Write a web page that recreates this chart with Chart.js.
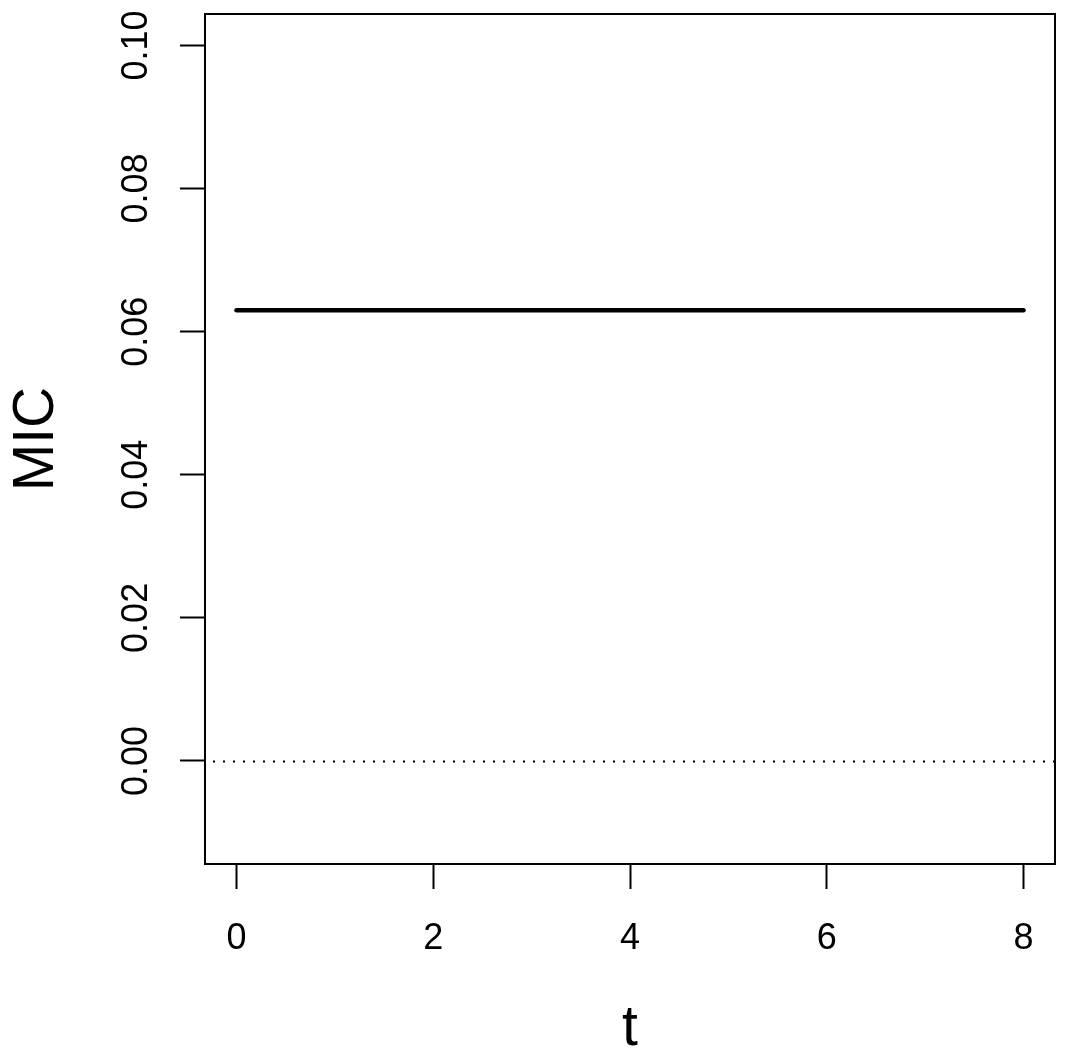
<!DOCTYPE html>
<html>
<head>
<meta charset="utf-8">
<script src="https://cdn.jsdelivr.net/npm/chart.js@4/dist/chart.umd.min.js"></script>
<style>
  html, body { margin: 0; padding: 0; background: #fff; }
  #wrap { width: 1066px; height: 1058px; }
</style>
</head>
<body>
<div id="wrap"><canvas id="chart" width="1066" height="1058"></canvas></div>
<script>
  var T = [0, 1, 2, 3, 4, 5, 6, 7, 8];
  var MIC = [0.063, 0.063, 0.063, 0.063, 0.063, 0.063, 0.063, 0.063, 0.063];
  var X_TICKS = [0, 2, 4, 6, 8];
  var Y_TICKS = [0, 0.02, 0.04, 0.06, 0.08, 0.10];
  var X_RANGE = [-0.32, 8.32];
  var Y_RANGE = [-0.0144, 0.1044];
  var H_LINE = 0;

  var FONT = '"Liberation Sans", Arial, sans-serif';

  function setTicks(values) {
    return function (scale) {
      scale.ticks = values.map(function (v) { return {value: v}; });
    };
  }

  // R style frame, dotted zero line, tick labels and axis titles
  var rFrame = {
    id: 'rFrame',
    beforeDatasetsDraw: function (chart) {
      var ctx = chart.ctx, a = chart.chartArea, y = chart.scales.y;
      var py = Math.round(y.getPixelForValue(H_LINE)) + 0.5;
      ctx.save();
      ctx.strokeStyle = '#000';
      ctx.lineWidth = 2;
      ctx.setLineDash([2, 8]);
      ctx.beginPath();
      ctx.moveTo(a.left + 8, py);
      ctx.lineTo(a.right, py);
      ctx.stroke();
      ctx.restore();
    },
    afterDraw: function (chart) {
      var ctx = chart.ctx, a = chart.chartArea, x = chart.scales.x, y = chart.scales.y;
      ctx.save();
      ctx.strokeStyle = '#000';
      ctx.lineWidth = 2;
      ctx.strokeRect(a.left, a.top, a.right - a.left, a.bottom - a.top);

      ctx.fillStyle = '#000';
      ctx.font = '36px ' + FONT;
      ctx.textAlign = 'center';
      ctx.textBaseline = 'alphabetic';
      X_TICKS.forEach(function (v) {
        ctx.fillText(String(v), x.getPixelForValue(v), 949);
      });
      Y_TICKS.forEach(function (v) {
        ctx.save();
        ctx.translate(147, y.getPixelForValue(v));
        ctx.rotate(-Math.PI / 2);
        ctx.fillText(v.toFixed(2), 0, 0);
        ctx.restore();
      });

      ctx.font = '57px ' + FONT;
      ctx.fillText('t', (a.left + a.right) / 2, 1045);
      ctx.save();
      ctx.translate(53, (a.top + a.bottom) / 2);
      ctx.rotate(-Math.PI / 2);
      ctx.fillText('MIC', 0, 0);
      ctx.restore();
      ctx.restore();
    }
  };

  new Chart(document.getElementById('chart'), {
    type: 'line',
    data: {
      datasets: [{
        data: T.map(function (t, i) { return {x: t, y: MIC[i]}; }),
        borderColor: '#000',
        borderWidth: 4.5,
        borderCapStyle: 'round',
        pointRadius: 0,
        tension: 0,
        fill: false
      }]
    },
    options: {
      responsive: false,
      animation: false,
      devicePixelRatio: 1,
      layout: {padding: {left: 0, top: 14, right: 11, bottom: 0}},
      plugins: {legend: {display: false}, tooltip: {enabled: false}},
      scales: {
        x: {
          type: 'linear',
          min: X_RANGE[0],
          max: X_RANGE[1],
          afterBuildTicks: setTicks(X_TICKS),
          afterFit: function (scale) { scale.height = 1058 - 864; },
          border: {display: false},
          grid: {drawOnChartArea: false, tickLength: 25, tickWidth: 2, tickColor: '#000'},
          ticks: {display: false}
        },
        y: {
          type: 'linear',
          min: Y_RANGE[0],
          max: Y_RANGE[1],
          afterBuildTicks: setTicks(Y_TICKS),
          afterFit: function (scale) { scale.width = 205; },
          border: {display: false},
          grid: {drawOnChartArea: false, tickLength: 25, tickWidth: 2, tickColor: '#000'},
          ticks: {display: false}
        }
      }
    },
    plugins: [rFrame]
  });
</script>
</body>
</html>
